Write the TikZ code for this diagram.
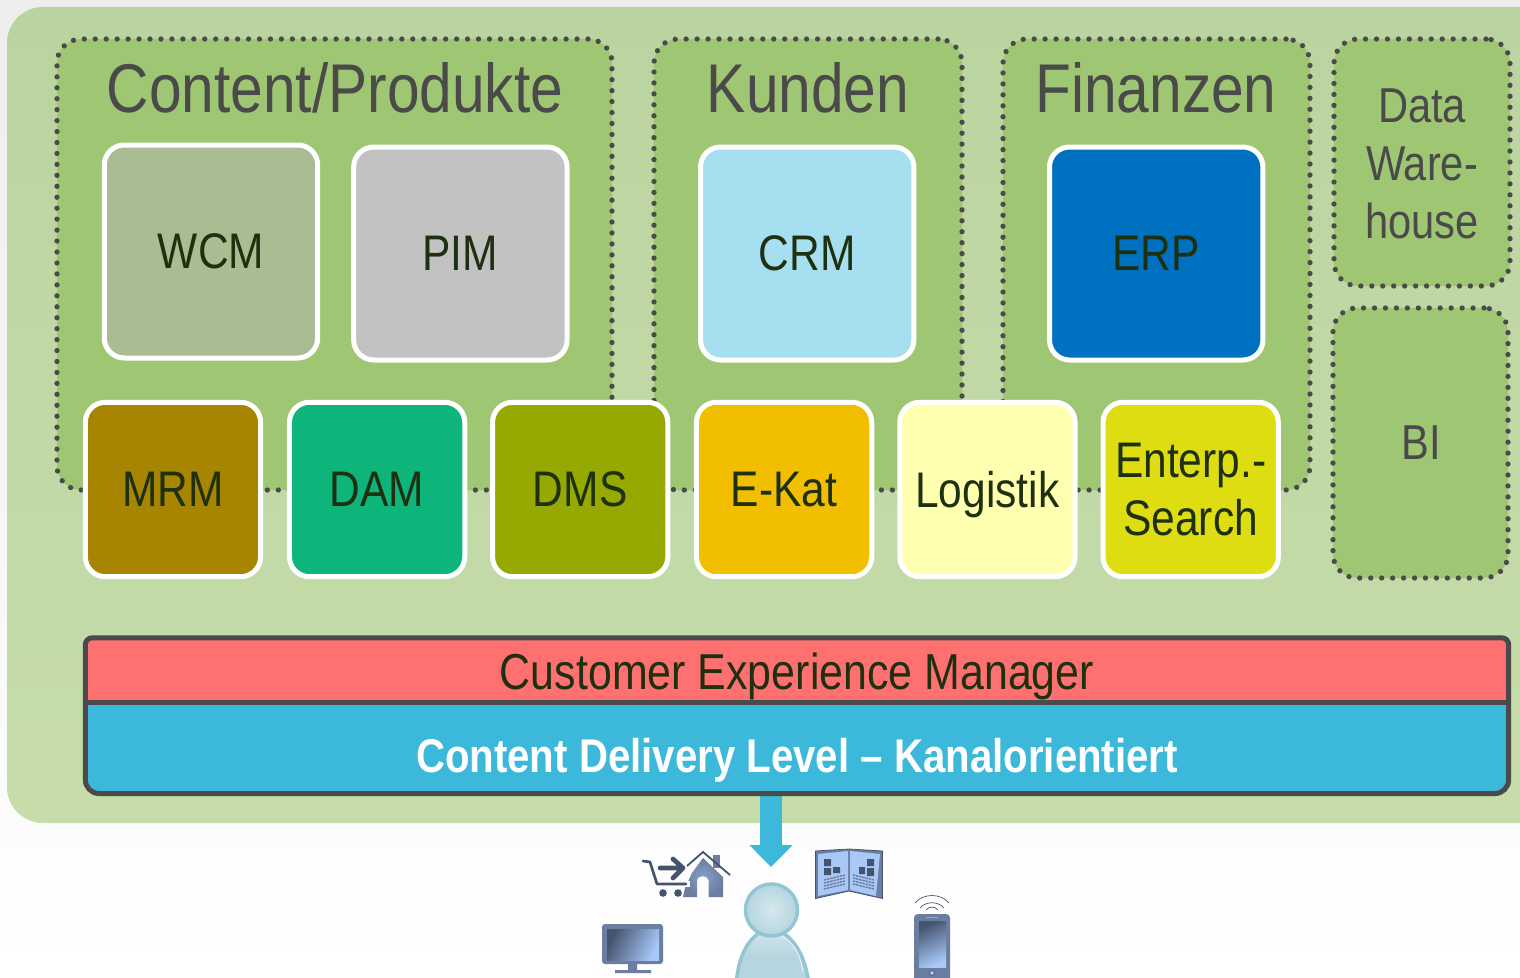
\documentclass[tikz,border=0pt]{standalone}
\usepackage{fontspec}
\setmainfont[FakeStretch=0.85]{Liberation Sans}
\usetikzlibrary{positioning, arrows.meta}
\definecolor{txtdark}{HTML}{4A4A4A}
\definecolor{tiletxt}{HTML}{1F3010}
\definecolor{panelgreen}{HTML}{9FC672}
\definecolor{outertop}{HTML}{BAD4A0}
\definecolor{outerbottom}{HTML}{C6DDAA}
\definecolor{iconblue}{HTML}{6B7DA0}
\definecolor{icondark}{HTML}{46536F}
\definecolor{iconlight}{HTML}{A8C8F8}
\definecolor{personfill}{HTML}{B5D5DF}
\definecolor{personline}{HTML}{93C5D3}
\definecolor{cdlblue}{HTML}{3CB8DA}
\definecolor{cxmred}{HTML}{FF7070}

\begin{document}
\begin{tikzpicture}[
    x=1pt, y=-1pt,
    panel/.style={rounded corners=24pt, fill=panelgreen, draw=txtdark, line width=5.3pt, line cap=round,
        dash pattern=on 0pt off 10.95pt},
    paneltitle/.style={text=txtdark, font=\fontsize{69}{69}\selectfont},
    sidetitle/.style={text=txtdark, align=center, font=\fontsize{49}{58}\selectfont},
    tile/.style={draw=white, line width=5pt, rounded corners=20pt, text=tiletxt, font=\fontsize{50}{58}\selectfont, align=center},
    bigtile/.style={tile, minimum width=213.4pt, minimum height=213pt},
    smalltile/.style={tile, minimum width=175.3pt, minimum height=174.4pt},
    barbox/.style={minimum width=1423pt, inner sep=0pt, text depth=0pt},
    icon/.style={fill=iconblue, draw=none}
]
    \clip (0,0) rectangle (1520,977);
    % Background
    \path[top color=black!7, bottom color=white] (0,0) rectangle (1520,977);
    \path[rounded corners=36pt, top color=outertop, bottom color=outerbottom] (7,7) rectangle (1580,823);

    % Dotted panels
    \node[panel, minimum width=555pt, minimum height=451pt] (contentpanel) at (334.5,264.5) {};
    \node[panel, minimum width=308pt, minimum height=451pt] (kundenpanel) at (808,264.5) {};
    \node[panel, minimum width=307pt, minimum height=451pt] (finanzpanel) at (1156.5,264.5) {};
    \node[panel, minimum width=176pt, minimum height=247pt] (dwhpanel) at (1422,162.5) {};
    \node[panel, minimum width=175pt, minimum height=270pt] (bipanel) at (1420.5,443) {};

    % Titles
    \node[paneltitle] (contenttitle) at (335,88) {Content/Produkte};
    \node[paneltitle] (kundentitle) at (808,88) {Kunden};
    \node[paneltitle] (finanztitle) at (1156,88) {Finanzen};
    \node[sidetitle] (dwhtitle) at (1422,164) {Data\\Ware-\\house};
    \node[sidetitle] (bititle) at (1421,443) {BI};

    % Upper tiles
    \node[bigtile, fill={rgb,255:red,169;green,188;blue,146}] (wcm) at (211,251.5) {WCM};
    \node[bigtile, fill={rgb,255:red,194;green,194;blue,194}, right=31pt of wcm, yshift=-2pt] (pim) {PIM};
    \node[bigtile, fill={rgb,255:red,166;green,223;blue,239}, right=128.4pt of pim] (crm) {CRM};
    \node[bigtile, fill={rgb,255:red,0;green,112;blue,192}, right=130.6pt of crm] (erp) {ERP};

    % Lower tiles
    \node[smalltile, fill={rgb,255:red,168;green,133;blue,0}] (mrm) at (173,489.5) {MRM};
    \node[smalltile, fill={rgb,255:red,13;green,181;blue,122}, right=23.8pt of mrm] (dam) {DAM};
    \node[smalltile, fill={rgb,255:red,149;green,169;blue,0}, right=22.8pt of dam] (dms) {DMS};
    \node[smalltile, fill={rgb,255:red,242;green,191;blue,0}, right=23.6pt of dms] (ekat) {E-Kat};
    \node[smalltile, fill={rgb,255:red,255;green,255;blue,176}, right=23pt of ekat, text depth=0pt] (logistik) {Logistik};
    \node[smalltile, fill={rgb,255:red,221;green,221;blue,17}, right=23pt of logistik] (search) {Enterp.-\\Search};

    % Bars
    \node[barbox, minimum height=64pt, text height=39pt, text=tiletxt, fill=cxmred, rounded corners=7pt,
        font=\fontsize{50.5}{50}\selectfont] (cxm) at (797,670) {Customer Experience Manager};
    \node[barbox, minimum height=91pt, text height=49pt, text=white, fill=cdlblue, rounded corners=10pt,
        font=\fontsize{47.3}{47}\selectfont, below=0pt of cxm] (cdl) {\textbf{Content Delivery Level -- Kanalorientiert}};

    % Arrow to user
    \coordinate (arrowend) at (771,867);
    \draw[cdlblue, line width=22pt, -{Triangle[length=22pt, width=42pt]}] (cdl.south -| arrowend) -- (arrowend);

    \draw[txtdark, line width=5pt, rounded corners=7pt] (cxm.south west) -- (cxm.north west) -- (cxm.north east) -- (cxm.south east)
        [rounded corners=14pt] -- (cdl.south east) -- (cdl.south west) -- (cxm.south west);
    \draw[txtdark, line width=5pt] (cxm.south west) -- (cxm.south east);

    % User
    \draw[top color=personfill!60!white, bottom color=personfill, middle color=personfill, draw=personline, line width=3.5pt] (736,985) .. controls (738,960) and (746,934) .. (771,928) .. controls (796,934) and (806,960) .. (809,985) -- cycle;
    \draw[white!80!personfill, line width=0.8pt] (782,936) .. controls (796,944) and (801,958) .. (803,972);
    \draw[inner color=personfill!55!white, outer color=personfill, draw=personline, line width=3.5pt] (771.5,910) circle (26);

    % Monitor
    \fill[icon, rounded corners=3pt] (602,924) rectangle (663,964);
    \fill[icon] (628,964) rectangle (637,970) (615,970) rectangle (651,973);
    \path[left color=icondark, right color=iconlight, shading angle=65] (607,929) rectangle (659,960);

    % Phone
    \fill[icon, rounded corners=4pt] (914,914) rectangle (950,990);
    \path[left color=icondark, right color=iconlight, shading angle=25] (919,921) rectangle (946,967);
    \draw[iconlight!60!iconblue, line width=1pt] (926,917.5) -- (938,917.5);
    \draw[fill=iconlight, draw=icondark, line width=0.8pt] (932,973) circle (2.5);
    \draw[icondark, line width=0.7pt] (915,903) .. controls (923,893) and (941,893) .. (949,903);
    \draw[icondark, line width=0.7pt] (920,908) .. controls (926,901) and (938,901) .. (944,908);
    \draw[icondark, line width=0.7pt] (926,910) .. controls (929,906) and (935,906) .. (938,910);

    % Book
    \draw[fill=iconblue, draw=icondark, line width=0.8pt] (815.5,851) -- (849,849) -- (882.5,851) -- (882.5,898.5) -- (849,891) -- (815.5,898.5) -- cycle;
    \fill[iconlight] (818,854) -- (848,851) -- (848,890) -- (818,896) -- cycle;
    \fill[iconlight] (850,851) -- (880,854) -- (876,896) -- (850,890) -- cycle;
    \fill[icondark] (824,859) rectangle (831,866) (824,868) rectangle (831,875) (833,867) rectangle (840,873);
    \fill[icondark] (867,859) rectangle (874,866) (859,867) rectangle (865,874) (867,868) rectangle (874,876);
    \foreach \ly in {878,881,884,887} {
        \draw[iconblue, line width=1.4pt, dash pattern=on 2.5pt off 0.7pt] (824,\ly+2) -- (845,\ly-3);
        \draw[iconblue, line width=1.4pt, dash pattern=on 2.5pt off 0.7pt] (853,\ly-3) -- (874,\ly+2);
    }

    % House and cart
    \fill[icon] (713,855) rectangle (720,868);
    \path[inner color=iconblue!55!iconlight, outer color=iconblue] (703,858) -- (723,877) -- (723,897) -- (708.5,897) -- (708.5,880) .. controls (708.5,875) and (697,875) .. (697,880) -- (697,897) -- (683,897) -- (685,888) -- (692,873) -- cycle;
    \draw[icondark, line width=1.8pt] (687,866) -- (703,852) -- (730,875);
    \draw[white!98!black, line width=6pt] (678,884) -- (690,884);
    \draw[icondark, line width=2.7pt, line cap=round, line join=round] (643,861) -- (650,862) -- (657,884) -- (686,884);
    \fill[icondark] (663,893) circle (3.8) (678,893) circle (3.8);
    \draw[icondark, line width=4.7pt, line cap=round, line join=round] (660,868) -- (682,868) (673,859) -- (683,868) -- (673,878);
\end{tikzpicture}
\end{document}
